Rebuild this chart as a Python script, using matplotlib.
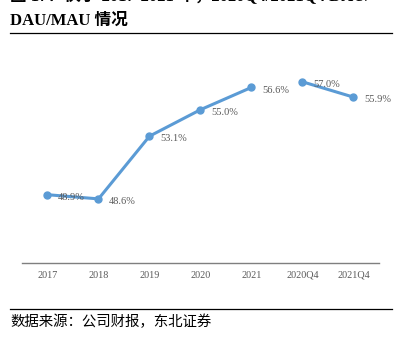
import matplotlib
matplotlib.use("Agg")
import matplotlib.pyplot as plt
from matplotlib.lines import Line2D

categories = ["2017", "2018", "2019", "2020", "2021", "2020Q4", "2021Q4"]
annual_values = [48.9, 48.6, 53.1, 55.0, 56.6]
quarter_values = [57.0, 55.9]
labels = ["48.9%", "48.6%", "53.1%", "55.0%", "56.6%", "57.0%", "55.9%"]

W, H = 414, 338
fig = plt.figure(figsize=(W / 100, H / 100), dpi=100)
fig.patch.set_facecolor("white")

def fx(px):
    return px / W

def fy(py):
    return 1 - py / H

ax = fig.add_axes([fx(22), fy(263), fx(379) - fx(22), fy(40) - fy(263)])
color = "#5B9BD5"
xa = list(range(len(annual_values)))
xq = list(range(len(annual_values), len(annual_values) + len(quarter_values)))
ax.plot(xa, annual_values, color=color, lw=2.2, marker="o", ms=5, solid_capstyle="round")
ax.plot(xq, quarter_values, color=color, lw=2.2, marker="o", ms=5, solid_capstyle="round")

allv = annual_values + quarter_values
for i, (v, lab) in enumerate(zip(allv, labels)):
    ax.annotate(lab, (i, v), xytext=(7.5, -2), textcoords="offset points",
                fontsize=7.5, color="#595959", family="Liberation Serif",
                ha="left", va="center")

ax.set_xlim(-0.5, 6.5)
ax.set_ylim(44, 60)
ax.set_yticks([])
ax.set_xticks(range(len(categories)))
ax.set_xticklabels(categories, fontsize=7.3, color="#595959", family="Liberation Serif")
ax.tick_params(axis="x", length=0, pad=5.5)
for s in ["top", "right", "left"]:
    ax.spines[s].set_visible(False)
ax.spines["bottom"].set_color("#7f7f7f")
ax.spines["bottom"].set_linewidth(1.0)

cjk = ["Liberation Serif", "Noto Sans CJK SC"]
fig.text(fx(10), fy(-3), "图 17：快手 2017-2021 年，2020Q4/2021Q4 DAU/", fontsize=12,
         fontweight="bold", family=cjk, ha="left", va="center")
fig.text(fx(10), fy(21), "DAU/MAU 情况", fontsize=12, fontweight="bold",
         family=cjk, ha="left", va="center")
fig.add_artist(Line2D([fx(10), fx(392)], [fy(33), fy(33)], color="black", lw=0.9))
fig.add_artist(Line2D([fx(10), fx(392)], [fy(308.5), fy(308.5)], color="black", lw=0.9))
fig.text(fx(10), fy(322), "数据来源：公司财报，东北证券", fontsize=10.4,
         family=["Noto Sans CJK SC"], ha="left", va="center")

fig.savefig("out.png", dpi=100)
